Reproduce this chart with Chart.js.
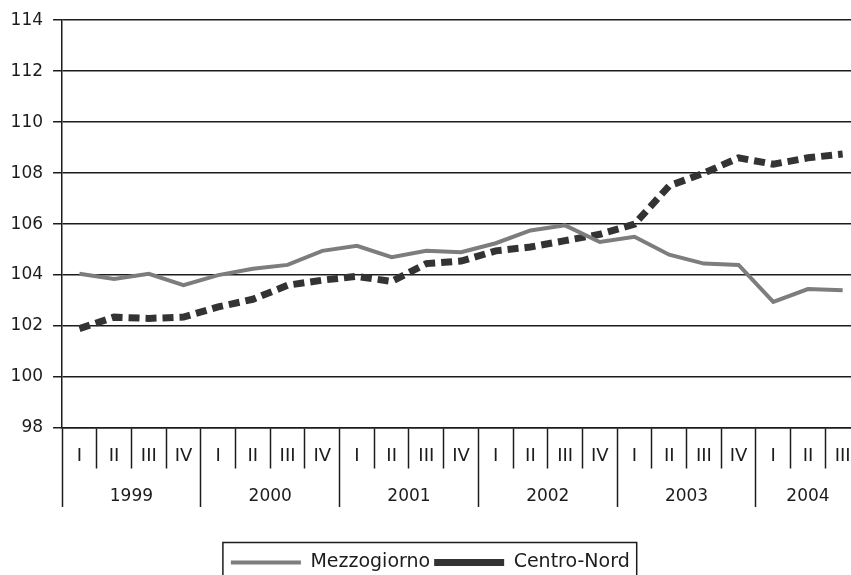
<!DOCTYPE html>
<html lang="it">
<head>
<meta charset="utf-8">
<title>Mezzogiorno e Centro-Nord</title>
<script src="https://cdn.jsdelivr.net/npm/chart.js@4.4.1/dist/chart.umd.min.js"></script>
<style>
    html, body { margin: 0; padding: 0; background: #fff; overflow: hidden; }
    /* the figure runs a little past the right edge of the window, as in the scan */
    #wrap      { position: relative; width: 860px; height: 592px; }
</style>
</head>
<body>
<div id="wrap"><canvas id="chart"></canvas></div>
<script>
// ─── DATA ────────────────────────────────────────────────────────────────────
const quarters = [
    'I', 'II', 'III', 'IV',
    'I', 'II', 'III', 'IV',
    'I', 'II', 'III', 'IV',
    'I', 'II', 'III', 'IV',
    'I', 'II', 'III', 'IV',
    'I', 'II', 'III'
];
const years = ['1999', '2000', '2001', '2002', '2003', '2004'];

const mezzogiorno = [
    104.05, 103.85, 104.05, 103.6,
    104.0,  104.25, 104.4,  104.95,
    105.15, 104.7,  104.95, 104.9,
    105.25, 105.75, 105.95, 105.3,
    105.5,  104.8,  104.45, 104.4,
    102.95, 103.45, 103.4
];
const centroNord = [
    101.9,  102.35, 102.3,  102.35,
    102.75, 103.05, 103.6,  103.8,
    103.95, 103.75, 104.45, 104.55,
    104.95, 105.1,  105.35, 105.6,
    106.0,  107.5,  108.0,  108.6,
    108.35, 108.6,  108.75
];

const yMin  = 98;
const yMax  = 114;
const yStep = 2;

// centre of each year's run of quarters (in category units)
const yearCenters = [];
let runStart = 0;
quarters.forEach((q, i) => {
    const lastOfYear = i === quarters.length - 1 || quarters[i + 1] === 'I';
    if (lastOfYear) {
        yearCenters.push((runStart + i) / 2);
        runStart = i + 1;
    }
});

const FONT = "'DejaVu Sans', sans-serif";
const INK  = '#1c1c1c';

// ─── LEGEND FRAME ────────────────────────────────────────────────────────────
const legendFrame = {
    id: 'legendFrame',
    afterDraw(chart) {
        const boxes = chart.legend && chart.legend.legendHitBoxes;
        if (!boxes || !boxes.length) return;
        const left  = Math.min(...boxes.map(b => b.left)) - 8;
        const right = Math.max(...boxes.map(b => b.left + b.width)) + 7;
        const top   = boxes[0].top - 10.5;
        const ctx   = chart.ctx;
        ctx.save();
        ctx.strokeStyle = INK;
        ctx.lineWidth   = 1.5;
        ctx.strokeRect(left, top, right - left, chart.height - top + 20);
        ctx.restore();
    }
};

// ─── CHART ───────────────────────────────────────────────────────────────────
new Chart(document.getElementById('chart'), {
    type: 'line',
    data: {
        labels: quarters,
        datasets: [
            {
                label: 'Mezzogiorno',
                data: mezzogiorno,
                borderColor: '#7d7d7d',
                borderWidth: 4,
                pointRadius: 0,
                tension: 0
            },
            {
                label: 'Centro-Nord',
                data: centroNord,
                borderColor: '#333333',
                borderWidth: 7,
                borderDash: [11, 6],
                pointRadius: 0,
                tension: 0
            }
        ]
    },
    options: {
        responsive: true,
        maintainAspectRatio: false,
        animation: false,
        layout: { padding: { left: 0.6, top: 18, right: 0, bottom: 10 } },
        plugins: {
            tooltip: { enabled: false },
            legend: {
                position: 'bottom',
                labels: {
                    usePointStyle: true,
                    pointStyle: 'line',
                    pointStyleWidth: 70,
                    padding: 4,
                    color: INK,
                    font: { family: FONT, size: 19 }
                }
            }
        },
        scales: {
            x: {
                type: 'category',
                position: 'bottom',
                offset: true,
                weight: 0,
                border: { display: true, color: INK, width: 1.5 },
                grid: {
                    offset: true,
                    drawOnChartArea: false,
                    tickLength: 79,
                    tickColor: INK,
                    tickWidth: 1.5,
                    // short marks between quarters, long marks between years
                    tickBorderDash: ctx => quarters[ctx.index] === 'I' ? [] : [40, 300]
                },
                ticks: {
                    autoSkip: false,
                    maxRotation: 0,
                    padding: -61,          // quarter labels sit between the marks
                    color: INK,
                    font: { family: FONT, size: 18 }
                },
                afterFit: axis => { axis.height = 40; }
            },
            years: {
                type: 'linear',
                position: 'bottom',
                weight: 1,
                min: -0.5,
                max: quarters.length - 0.5,
                border: { display: false },
                grid: { display: false },
                afterBuildTicks: axis => {
                    axis.ticks = yearCenters.map(v => ({ value: v }));
                },
                ticks: {
                    autoSkip: false,
                    maxRotation: 0,
                    padding: 10,
                    color: INK,
                    font: { family: FONT, size: 17 },
                    callback: (value, index) => years[index]
                },
                afterFit: axis => { axis.height = 81; }
            },
            y: {
                min: yMin,
                max: yMax,
                border: { display: true, color: INK, width: 1.5 },
                grid: {
                    color: INK,
                    lineWidth: 1.5,
                    tickLength: 9
                },
                ticks: {
                    stepSize: yStep,
                    padding: 10,
                    color: INK,
                    font: { family: FONT, size: 17 }
                }
            }
        }
    },
    plugins: [legendFrame]
});
</script>
</body>
</html>
